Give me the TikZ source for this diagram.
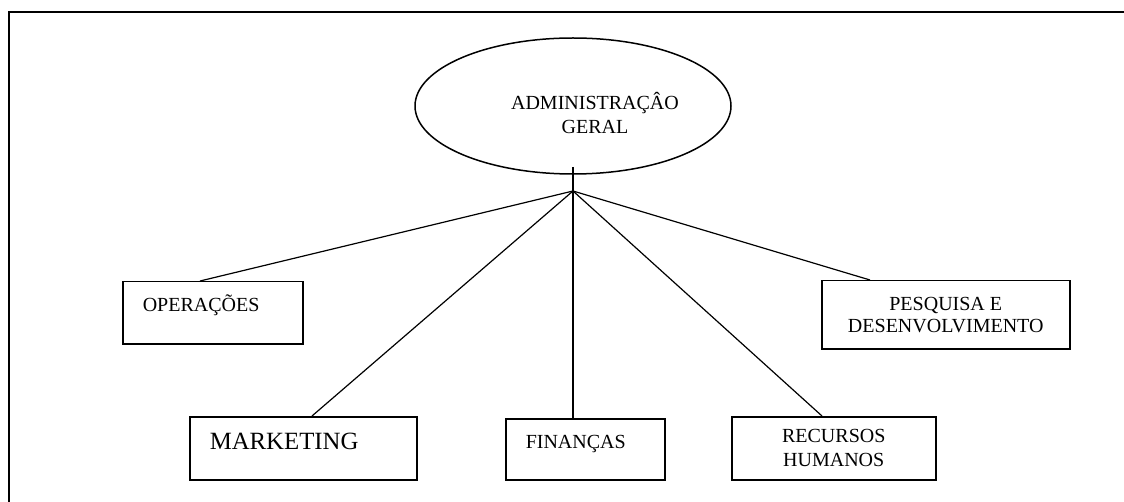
\documentclass[tikz,border=0pt]{standalone}
\usepackage{fontspec}
\setmainfont{Liberation Serif}
\usetikzlibrary{shapes.geometric,positioning}

\begin{document}
\begin{tikzpicture}[
    x=0.5pt, y=-0.5pt,
    every node/.style={font=\fontsize{10pt}{12pt}\selectfont},
    head/.style={draw, ellipse, line width=0.75pt, minimum width=158pt, minimum height=68pt},
    unit/.style={draw, line width=0.75pt, anchor=north west, align=left, inner xsep=10pt, inner ysep=0pt},
    group/.style={draw, line width=0.75pt, anchor=north west, align=center, inner sep=0pt},
    link/.style={line width=0.6pt}
]
\useasboundingbox (0,0) rectangle (1124,502);
\draw[line width=1pt] (9,502) -- (9,12) -- (1124,12);

\node[head, label={[align=center, xshift=11pt, yshift=-3.75pt]center:ADMINISTRAÇÂO\\GERAL}] (admin) at (573,106) {};

\node[unit, text width=70pt, text height=15pt, text depth=16pt] (ops) at (122,281) {OPERAÇÕES};
\node[unit, text width=93.5pt, text height=16.5pt, text depth=15pt, font=\fontsize{12.4pt}{14pt}\selectfont] (mkt) at (189,416) {MARKETING};
\node[unit, text width=59.5pt, text height=15pt, text depth=15.5pt] (fin) at (505,418) {FINANÇAS};
\node[group, minimum width=102pt, minimum height=31.5pt] (rh) at (731,416) {RECURSOS\\HUMANOS};
\node[group, minimum width=124pt, minimum height=34pt, font=\fontsize{10pt}{11pt}\selectfont] (pd) at (821,280) {PESQUISA E\\DESENVOLVIMENTO};

\coordinate (hub) at (573,191);
\coordinate (stem) at (573,167);
\draw[link] (stem) -- (stem |- fin.north);
\draw[link] (hub) -- ([xshift=39pt]ops.north west);
\draw[link] (hub) -- ([xshift=61.5pt]mkt.north west);
\draw[link] (hub) -- ([xshift=45.5pt]rh.north west);
\draw[link] (hub) -- ([xshift=24.5pt]pd.north west);
\end{tikzpicture}
\end{document}
